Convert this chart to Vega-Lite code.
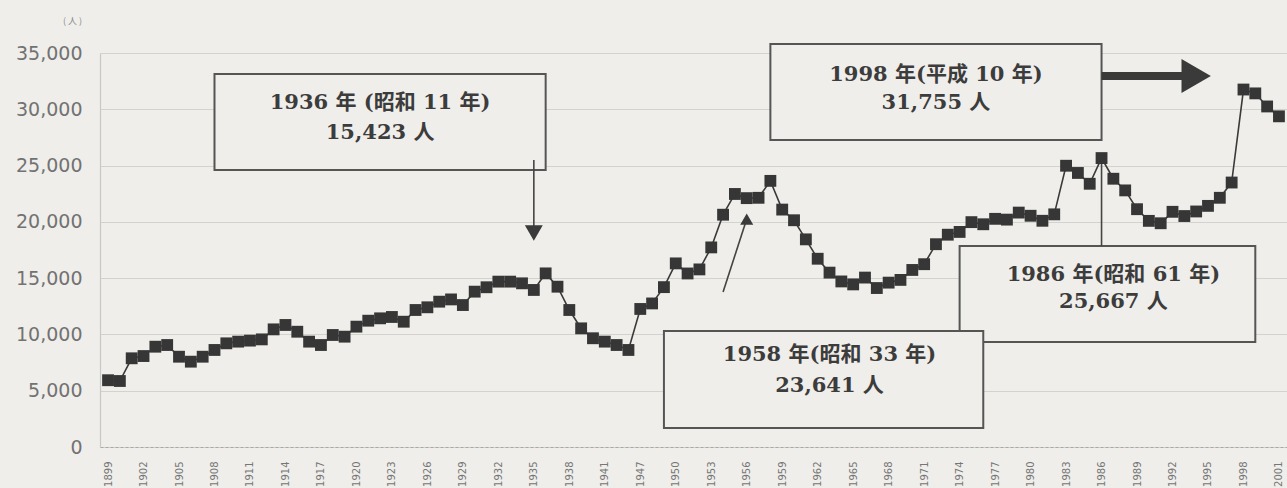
{
  "$schema": "https://vega.github.io/schema/vega-lite/v6.json",
  "width": 1187,
  "height": 394,
  "autosize": {"type": "none"},
  "padding": {"left": 100, "top": 53, "right": 0, "bottom": 41},
  "background": "#efeeea",
  "config": {
    "view": {"stroke": null},
    "axis": {"labelFont": "DejaVu Sans", "titleFont": "Noto Sans CJK JP"}
  },
  "datasets": {
    "suicides": [
      {"year": 1899, "n": 5932}, {"year": 1900, "n": 5863}, {"year": 1901, "n": 7880}, {"year": 1902, "n": 8080},
      {"year": 1903, "n": 8910}, {"year": 1904, "n": 9060}, {"year": 1905, "n": 8020}, {"year": 1906, "n": 7580},
      {"year": 1907, "n": 8020}, {"year": 1908, "n": 8620}, {"year": 1909, "n": 9210}, {"year": 1910, "n": 9360},
      {"year": 1911, "n": 9450}, {"year": 1912, "n": 9560}, {"year": 1913, "n": 10450}, {"year": 1914, "n": 10840},
      {"year": 1915, "n": 10240}, {"year": 1916, "n": 9360}, {"year": 1917, "n": 9060}, {"year": 1918, "n": 9950},
      {"year": 1919, "n": 9800}, {"year": 1920, "n": 10690}, {"year": 1921, "n": 11220}, {"year": 1922, "n": 11430},
      {"year": 1923, "n": 11550}, {"year": 1924, "n": 11130}, {"year": 1925, "n": 12170}, {"year": 1926, "n": 12410},
      {"year": 1927, "n": 12910}, {"year": 1928, "n": 13110}, {"year": 1929, "n": 12610}, {"year": 1930, "n": 13800},
      {"year": 1931, "n": 14190}, {"year": 1932, "n": 14690}, {"year": 1933, "n": 14690}, {"year": 1934, "n": 14540},
      {"year": 1935, "n": 13950}, {"year": 1936, "n": 15423}, {"year": 1937, "n": 14240}, {"year": 1938, "n": 12170},
      {"year": 1939, "n": 10540}, {"year": 1940, "n": 9660}, {"year": 1941, "n": 9360}, {"year": 1942, "n": 9060},
      {"year": 1943, "n": 8620},
      {"year": 1947, "n": 12262}, {"year": 1948, "n": 12753}, {"year": 1949, "n": 14201}, {"year": 1950, "n": 16311},
      {"year": 1951, "n": 15415}, {"year": 1952, "n": 15776}, {"year": 1953, "n": 17731}, {"year": 1954, "n": 20635},
      {"year": 1955, "n": 22477}, {"year": 1956, "n": 22107}, {"year": 1957, "n": 22136}, {"year": 1958, "n": 23641},
      {"year": 1959, "n": 21090}, {"year": 1960, "n": 20143}, {"year": 1961, "n": 18446}, {"year": 1962, "n": 16724},
      {"year": 1963, "n": 15490}, {"year": 1964, "n": 14707}, {"year": 1965, "n": 14444}, {"year": 1966, "n": 15050},
      {"year": 1967, "n": 14121}, {"year": 1968, "n": 14601}, {"year": 1969, "n": 14844}, {"year": 1970, "n": 15728},
      {"year": 1971, "n": 16239}, {"year": 1972, "n": 18015}, {"year": 1973, "n": 18859}, {"year": 1974, "n": 19105},
      {"year": 1975, "n": 19975}, {"year": 1976, "n": 19786}, {"year": 1977, "n": 20269}, {"year": 1978, "n": 20199},
      {"year": 1979, "n": 20823}, {"year": 1980, "n": 20542}, {"year": 1981, "n": 20096}, {"year": 1982, "n": 20668},
      {"year": 1983, "n": 24985}, {"year": 1984, "n": 24344}, {"year": 1985, "n": 23383}, {"year": 1986, "n": 25667},
      {"year": 1987, "n": 23831}, {"year": 1988, "n": 22795}, {"year": 1989, "n": 21125}, {"year": 1990, "n": 20088},
      {"year": 1991, "n": 19875}, {"year": 1992, "n": 20893}, {"year": 1993, "n": 20516}, {"year": 1994, "n": 20923},
      {"year": 1995, "n": 21420}, {"year": 1996, "n": 22138}, {"year": 1997, "n": 23494}, {"year": 1998, "n": 31755},
      {"year": 1999, "n": 31413}, {"year": 2000, "n": 30251}, {"year": 2001, "n": 29375}
    ],
    "boxes": [
      {"from": 1908, "to": 1936, "top": 33135, "bottom": 24607},
      {"from": 1958, "to": 1986, "top": 35800, "bottom": 27272},
      {"from": 1974, "to": 1999, "top": 17855, "bottom": 9327},
      {"from": 1949, "to": 1976, "top": 10305, "bottom": 1688}
    ],
    "notes": [
      {"x": 1922, "y": 30560, "t": "1936 年 (昭和 11 年)"},
      {"x": 1922, "y": 27890, "t": "15,423 人"},
      {"x": 1972, "y": 33050, "t": "1998 年(平成 10 年)"},
      {"x": 1972, "y": 30560, "t": "31,755 人"},
      {"x": 1987, "y": 15280, "t": "1986 年(昭和 61 年)"},
      {"x": 1987, "y": 12880, "t": "25,667 人"},
      {"x": 1963, "y": 8170, "t": "1958 年(昭和 33 年)"},
      {"x": 1963, "y": 5420, "t": "23,641 人"}
    ],
    "pointers": [
      {"x0": 1935, "x1": 1935, "y0": 25500, "y1": 19300},
      {"x0": 1954, "x1": 1956, "y0": 13770, "y1": 20250},
      {"x0": 1986, "x1": 1986, "y0": 17855, "y1": 25667}
    ]
  },
  "layer": [
    {
      "data": {"name": "suicides"},
      "mark": {"type": "line", "stroke": "#3a3a3a", "strokeWidth": 1.6},
      "encoding": {
        "x": {
          "field": "year", "type": "ordinal", "title": null,
          "scale": {"type": "point", "padding": 0.68},
          "axis": {
            "title": null,
            "values": [1899, 1902, 1905, 1908, 1911, 1914, 1917, 1920, 1923, 1926, 1929, 1932, 1935, 1938, 1941, 1947, 1950, 1953, 1956, 1959, 1962, 1965, 1968, 1971, 1974, 1977, 1980, 1983, 1986, 1989, 1992, 1995, 1998, 2001],
            "labelAngle": 270, "labelFontSize": 10, "labelColor": "#767676", "labelPadding": 14,
            "ticks": false, "grid": false,
            "domainColor": "#a8a8a8", "domainDash": [3, 2], "domainWidth": 1.2
          }
        },
        "y": {
          "field": "n", "type": "quantitative", "title": "( 人 )",
          "scale": {"domain": [0, 35000], "nice": false},
          "axis": {
            "values": [0, 5000, 10000, 15000, 20000, 25000, 30000, 35000],
            "format": ",d",
            "title": "( 人 )", "titleAngle": 0, "titleX": -28, "titleY": -33,
            "titleAlign": "center", "titleBaseline": "middle",
            "titleFontSize": 9, "titleColor": "#8a8a8a", "titleFontWeight": "normal",
            "labelFontSize": 19, "labelColor": "#727272", "labelPadding": 18,
            "ticks": false,
            "grid": true, "gridColor": "#d2d2ce", "gridWidth": 1.2,
            "domainColor": "#c8c8c8", "domainWidth": 1.2
          }
        }
      }
    },
    {
      "data": {"name": "boxes"},
      "mark": {"type": "rect", "fill": "#efeeea", "stroke": "#555555", "strokeWidth": 2},
      "encoding": {
        "x": {"field": "from", "type": "ordinal", "title": null},
        "x2": {"field": "to"},
        "y": {"field": "top", "type": "quantitative", "title": "( 人 )"},
        "y2": {"field": "bottom"}
      }
    },
    {
      "data": {"name": "notes"},
      "mark": {"type": "text", "font": "DejaVu Serif, Noto Sans CJK JP", "fontSize": 21, "fontWeight": "bold", "fill": "#3c3c3c", "align": "center", "baseline": "middle"},
      "encoding": {
        "x": {"field": "x", "type": "ordinal", "title": null},
        "y": {"field": "y", "type": "quantitative", "title": "( 人 )"},
        "text": {"field": "t"}
      }
    },
    {
      "data": {"name": "pointers"},
      "mark": {"type": "rule", "stroke": "#444444", "strokeWidth": 1.6},
      "encoding": {
        "x": {"field": "x0", "type": "ordinal", "title": null},
        "x2": {"field": "x1"},
        "y": {"field": "y0", "type": "quantitative", "title": "( 人 )"},
        "y2": {"field": "y1"}
      }
    },
    {
      "data": {"name": "suicides"},
      "mark": {"type": "point", "shape": "square", "filled": true, "size": 140, "color": "#363636", "opacity": 1},
      "encoding": {
        "x": {"field": "year", "type": "ordinal", "title": null},
        "y": {"field": "n", "type": "quantitative", "title": "( 人 )"}
      }
    },
    {
      "data": {"values": [{"x0": 1986, "x1": 1993, "y": 32960}]},
      "mark": {"type": "rule", "stroke": "#3a3a3a", "strokeWidth": 8},
      "encoding": {
        "x": {"field": "x0", "type": "ordinal", "title": null},
        "x2": {"field": "x1"},
        "y": {"field": "y", "type": "quantitative", "title": "( 人 )"}
      }
    },
    {
      "data": {"values": [{"x": 1935, "y": 19010}]},
      "mark": {"type": "point", "shape": "triangle-down", "filled": true, "size": 320, "color": "#3a3a3a", "opacity": 1},
      "encoding": {
        "x": {"field": "x", "type": "ordinal", "title": null},
        "y": {"field": "y", "type": "quantitative", "title": "( 人 )"}
      }
    },
    {
      "data": {"values": [{"x": 1956, "y": 20250}]},
      "mark": {"type": "point", "shape": "triangle-up", "filled": true, "size": 170, "color": "#3a3a3a", "opacity": 1},
      "encoding": {
        "x": {"field": "x", "type": "ordinal", "title": null},
        "y": {"field": "y", "type": "quantitative", "title": "( 人 )"}
      }
    },
    {
      "data": {"values": [{"x": 1994, "y": 32960}]},
      "mark": {"type": "point", "shape": "triangle-right", "filled": true, "size": 1150, "color": "#3a3a3a", "opacity": 1},
      "encoding": {
        "x": {"field": "x", "type": "ordinal", "title": null},
        "y": {"field": "y", "type": "quantitative", "title": "( 人 )"}
      }
    }
  ]
}
